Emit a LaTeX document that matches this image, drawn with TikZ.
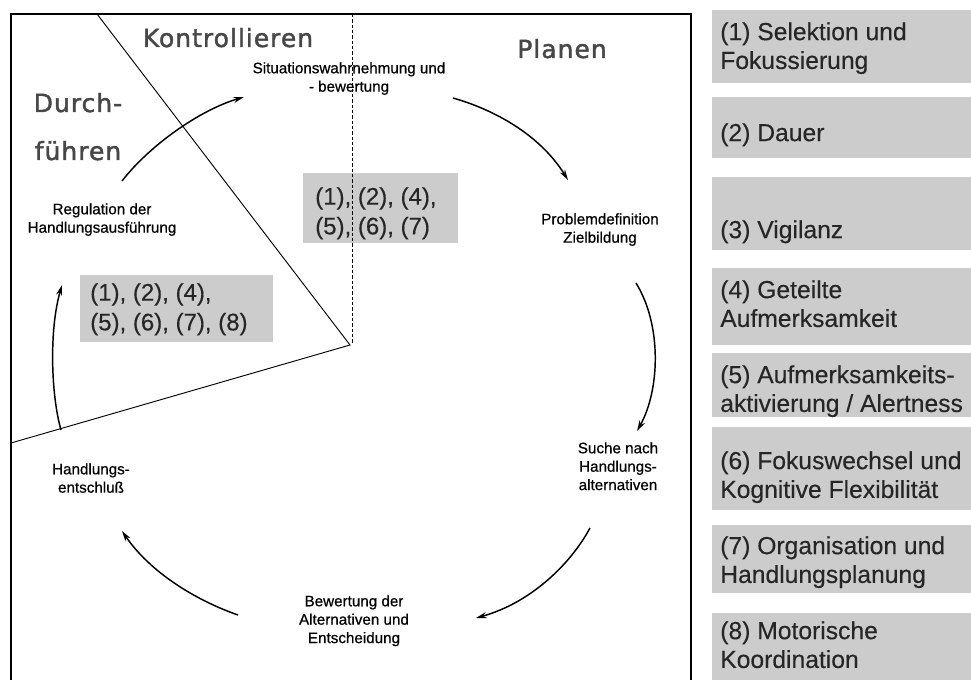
\documentclass[tikz,border=0pt]{standalone}
\usepackage{fontspec}
\setmainfont{Liberation Sans}
\newfontfamily\headfont[LetterSpace=4,FakeBold=1.6]{DejaVu Sans}
\newfontfamily\lblfont[FakeBold=0.6]{Liberation Sans}
\newfontfamily\boxfont[FakeBold=0.3]{Liberation Sans}
\usetikzlibrary{arrows.meta}
\begin{document}
\begin{tikzpicture}[x=0.75pt,y=-0.75pt,
  lbl/.style={font=\lblfont\fontsize{11.4}{13.8}\selectfont, align=center, inner sep=0pt, anchor=north},
  head/.style={font=\headfont\fontsize{18.75}{20}\selectfont, text=black!72, inner sep=0pt, anchor=base},
  numtext/.style={font=\boxfont\fontsize{18}{22.3}\selectfont, align=left, inner sep=0pt, anchor=north west, text=black!85},
  legtext/.style={font=\boxfont\fontsize{18.5}{21.6}\selectfont, align=left, inner sep=0pt, anchor=north west, text=black!85},
  greybg/.style={fill=black!20},
  flow/.style={line width=1.1pt, -{Stealth[length=8pt,width=4.5pt]}},
  frameline/.style={line width=0.8pt},
  divline/.style={line width=0.7pt}
]
\useasboundingbox (0,0) rectangle (971,680);

% grey number boxes
\fill[greybg] (303,173) rectangle (458,243);
\fill[greybg] (80,275) rectangle (273,342);
\node[numtext] (ga) at (315,187) {(1), (2), (4),\\(5), (6), (7)};
\node[numtext] (gb) at (90,283) {(1), (2), (4),\\(5), (6), (7), (8)};

% frame and dividers
\draw[frameline] (11,680) -- (11,14) -- (691,14) -- (691,680);
\coordinate (dtop) at (97,14);
\coordinate (dcorner) at (350,345);
\coordinate (dleft) at (11,443);
\coordinate (vtop) at (352,14);
\coordinate (vbot) at (352,343);
\draw[divline] (dtop) -- (dcorner) -- (dleft);
\draw[divline, dash pattern=on 2.5pt off 1.5pt] (vtop) -- (vbot);

% headings
\node[head] (hk) at (228,47) {Kontrollieren};
\node[head] (hp) at (562,58) {Planen};
\node[head] (hd1) at (78,112) {Durch-};
\node[head] (hd2) at (78,160) {führen};

% cycle labels
\node[lbl] (sit) at (349,62) {Situationswahrnehmung und\\- bewertung};
\node[lbl] (reg) at (102,203) {Regulation der\\Handlungsausführung};
\node[lbl] (prob) at (600,213) {Problemdefinition\\Zielbildung};
\node[lbl] (such) at (618,442) {Suche nach\\Handlungs-\\alternativen};
\node[lbl] (bew) at (354,595) {Bewertung der\\Alternativen und\\Entscheidung};
\node[lbl] (hand) at (91,463) {Handlungs-\\entschluß};

% arrow end points
\coordinate (a1s) at (122,181); \coordinate (a1e) at (244,97);
\coordinate (a2s) at (453,98);  \coordinate (a2e) at (568,180);
\coordinate (a3s) at (636,283); \coordinate (a3e) at (637,431);
\coordinate (a4s) at (590,528); \coordinate (a4e) at (476,618);
\coordinate (a5s) at (238,615); \coordinate (a5e) at (122,531);
\coordinate (a6s) at (61,430);  \coordinate (a6e) at (62,285);

\draw[flow] (a1s) .. controls (150,145) and (200,110) .. (a1e);
\draw[flow] (a2s) .. controls (495,110) and (540,135) .. (a2e);
\draw[flow] (a3s) .. controls (662,325) and (660,390) .. (a3e);
\draw[flow] (a4s) .. controls (570,565) and (530,603) .. (a4e);
\draw[flow] (a5s) .. controls (195,600) and (150,572) .. (a5e);
\draw[flow] (a6s) .. controls (51,395) and (49,330) .. (a6e);

% legend
\fill[greybg] (712,10) rectangle (971,83);
\fill[greybg] (712,97) rectangle (971,158);
\fill[greybg] (712,177) rectangle (971,250);
\fill[greybg] (712,268) rectangle (971,345);
\fill[greybg] (712,353) rectangle (971,417);
\fill[greybg] (712,427) rectangle (971,510);
\fill[greybg] (712,525) rectangle (971,593);
\fill[greybg] (712,613) rectangle (971,680);
\node[legtext] (l1) at (720,22)  {(1) Selektion und\\Fokussierung};
\node[legtext] (l2) at (720,123) {(2) Dauer};
\node[legtext] (l3) at (720,220) {(3) Vigilanz};
\node[legtext] (l4) at (720,280) {(4) Geteilte\\Aufmerksamkeit};
\node[legtext] (l5) at (720,365) {(5) Aufmerksamkeits-\\aktivierung / Alertness};
\node[legtext] (l6) at (720,451) {(6) Fokuswechsel und\\Kognitive Flexibilität};
\node[legtext] (l7) at (720,536) {(7) Organisation und\\Handlungsplanung};
\node[legtext] (l8) at (720,621) {(8) Motorische\\Koordination};
\end{tikzpicture}
\end{document}
